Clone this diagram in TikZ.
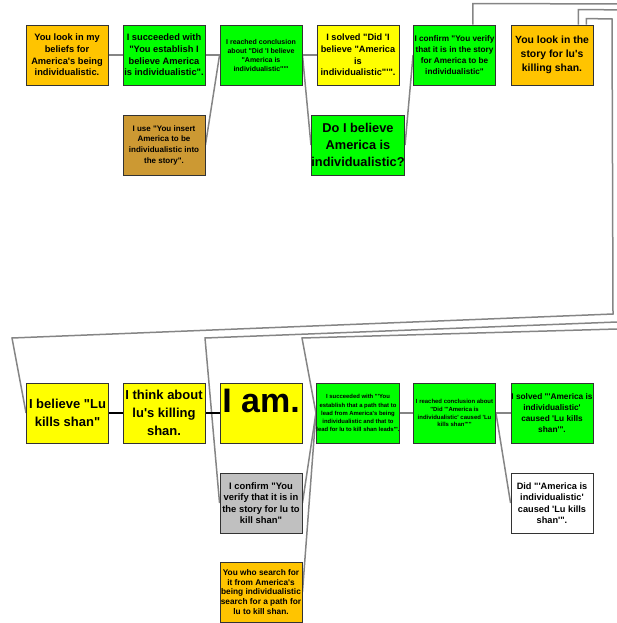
\documentclass[tikz,border=0pt]{standalone}
\usepackage{fontspec}
\newfontfamily\nf{Liberation Sans}
\usetikzlibrary{backgrounds}
\definecolor{cOr}{HTML}{FFC400}
\definecolor{cGr}{HTML}{00FF00}
\definecolor{cYe}{HTML}{FFFF00}
\definecolor{cBr}{HTML}{CC9933}
\definecolor{cGy}{HTML}{C0C0C0}
\definecolor{cCon}{HTML}{858585}
\definecolor{cBd}{HTML}{333333}
\begin{document}
\begin{tikzpicture}[x=1pt,y=-1pt,
  box/.style={draw=cBd,line width=0.9pt,minimum width=82pt,minimum height=60pt,inner sep=0pt,align=center},
  fsz/.style 2 args={font=\nf\bfseries\fontsize{#1}{#2}\selectfont},
  con/.style={draw=cCon,line width=1.5pt},
  bcon/.style={draw=black,line width=1.5pt}]
\useasboundingbox (0,0) rectangle (617,623);
\clip (0,0) rectangle (617,623);
% top row
\node[box,fill=cOr,fsz={9.3}{11.7}] (n1) at (67,55) {You look in my\\beliefs for\\America's being\\individualistic.};
\node[box,fill=cGr,fsz={9.3}{11.7}] (n2) at (164,55) {I succeeded with\\"You establish I\\believe America\\is individualistic".};
\node[box,fill=cGr,fsz={7}{9}] (n3) at (261,55) {I reached conclusion\\about "Did 'I believe\\"America is\\individualistic"'"};
\node[box,fill=cYe,fsz={9.2}{11.7}] (n4) at (358,55) {I solved "Did 'I\\believe "America\\is\\individualistic"'".};
\node[box,fill=cGr,fsz={8.2}{11}] (n5) at (454.5,55) {I confirm "You verify\\that it is in the story\\for America to be\\individualistic"};
\node[box,fill=cOr,fsz={10.4}{14}] (n6) at (552,55) {You look in the\\story for lu's\\killing shan.};
\node[box,fill=cBr,fsz={8}{10.7}] (use) at (164,145) {I use "You insert\\America to be\\individualistic into\\the story".};
\node[box,fill=cGr,fsz={12.8}{17}] (doI) at (358,145) {Do I believe\\America is\\individualistic?};
% bottom row
\node[box,fill=cYe,fsz={13}{18}] (lu) at (67.5,413) {I believe "Lu\\kills shan"};
\node[box,fill=cYe,fsz={13}{17.7}] (think) at (164,413) {I think about\\lu's killing\\shan.};
\node[box,fill=cYe] (iam) at (261,413) {};
\node[fsz={34}{34},anchor=base,inner sep=0pt] (iamtext) at (261,412) {I am.};
\node[box,fill=cGr,fsz={5.9}{8.1}] (succ) at (358,413) {I succeeded with "'You\\establish that a path that to\\lead from America's being\\individualistic and that to\\lead for lu to kill shan leads'".};
\node[box,fill=cGr,fsz={5.95}{7.8}] (concl) at (454.5,413) {I reached conclusion about\\"Did "'America is\\individualistic' caused 'Lu\\kills shan'""};
\node[box,fill=cGr,fsz={8.3}{10.7}] (solved) at (552,413) {I solved "'America is\\individualistic'\\caused 'Lu kills\\shan'".};
\node[box,fill=cGy,fsz={9.4}{11.3}] (gray) at (261,503) {I confirm "You\\verify that it is in\\the story for lu to\\kill shan"};
\node[box,fill=white,fsz={9.2}{11.5}] (did) at (552,503) {Did "'America is\\individualistic'\\caused 'Lu kills\\shan'".};
\node[box,fill=cOr,fsz={8.3}{9.8}] (search) at (261,592) {You who search for\\it from America's\\being individualistic\\search for a path for\\lu to kill shan.};
\begin{scope}[on background layer]
\draw[con] (n1.east) -- (n2.west);
\draw[con] (n2.east) -- (n3.west);
\draw[con] (n3.east) -- (n4.west);
\draw[con] (use.east) -- (n3.west);
\draw[con] (n3.east) -- (doI.west);
\draw[con] (doI.east) -- (n5.west);
\draw[con] ([xshift=-23pt]n5.north east) -- ++(0,-21) -- (645,4) -- (645,328.2) -- (302,338) -- (succ.west);
\draw[con] ([xshift=-15pt]n6.north east) -- ++(0,-15) -- (635,10) -- (635,321.3) -- (205,338) -- (gray.west);
\draw[con] ([xshift=-7pt]n6.north east) -- ++(0,-6) -- (612,19) -- (613,314) -- (12,338) -- (lu.west);
\draw[con] (gray.east) -- (succ.west);
\draw[con] (search.east) -- (succ.west);
\draw[con] (succ.east) -- (concl.west);
\draw[con] (concl.east) -- (solved.west);
\draw[con] (concl.east) -- (did.west);
\draw[bcon] (lu.east) -- (think.west);
\draw[bcon] (think.east) -- (iam.west);
\end{scope}
\end{tikzpicture}
\end{document}
